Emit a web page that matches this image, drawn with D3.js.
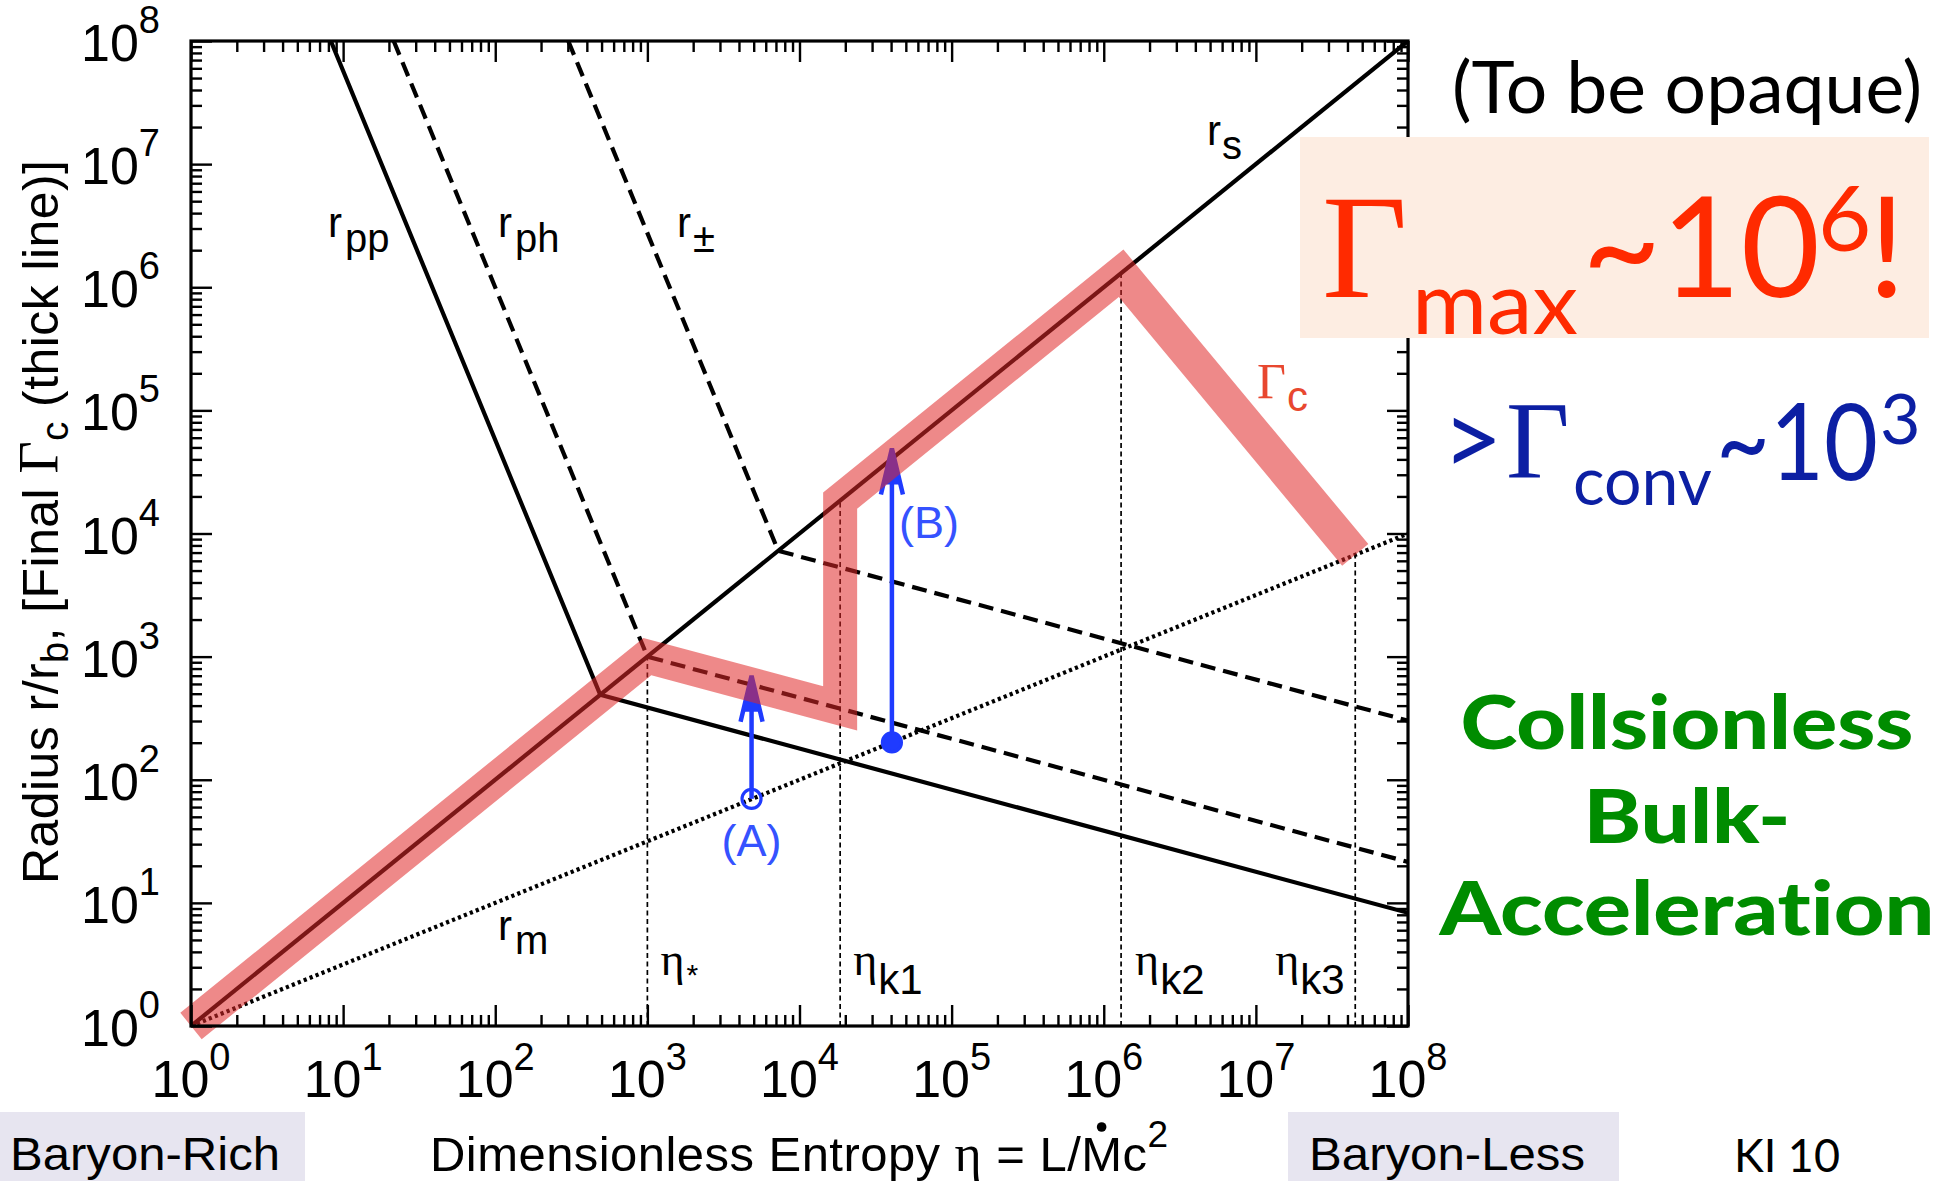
<!DOCTYPE html>
<html>
<head>
<meta charset="utf-8">
<script src="https://cdn.jsdelivr.net/npm/d3@7"></script>
<style>
  html, body { margin: 0; padding: 0; background: #fff; }
  svg { display: block; }
  text { font-variant-ligatures: none; }
</style>
</head>
<body>
<svg id="chart" width="1955" height="1181"></svg>
<script>
// ---- data -------------------------------------------------------------
// decade exponents shared by both logarithmic axes (tick labels 10^0 ... 10^8)
const decades = [0, 1, 2, 3, 4, 5, 6, 7, 8];

// characteristic radii r/r_b against dimensionless entropy eta, as [eta, r] vertices
const rSat       = [[1, 1], [1e8, 1e8]];                      // r_s  (saturation)
const rPairPhoto = [[8.3, 1e8], [490, 490], [1e8, 8.3]];      // r_pp
const rPhoto     = [[21.5, 1e8], [1000, 1000], [1e8, 21.5]];  // r_ph
const rPair      = [[302, 1e8], [7244, 7244], [1e8, 302]];    // r_±
const rMag       = [[1, 1], [1e8, 1e4]];                      // r_m

// final Lorentz factor Gamma_c (thick band)
const gammaC = [[1, 1], [1000, 1000], [18500, 380], [18500, 18500], [1.3e6, 1.3e6], [4.5e7, 6700]];

// critical entropies and the height each guide line reaches
const etaNames = ["*", "k1", "k2", "k3"];
const etaCrit  = [1000, 18500, 1.3e6, 4.5e7];
const etaTop   = [1000, 18500, 1.3e6, 6700];

// two acceleration examples: start on r_m, arrow up to the final value
const arrowNames = ["(A)", "(B)"];
const arrowEta   = [4840, 40500];
const arrowFrom  = [70, 201];
const arrowTo    = [700, 49000];

// ---- setup ------------------------------------------------------------
const SANS  = "'Liberation Sans', Arial, Helvetica, sans-serif";
const SERIF = "'Liberation Serif', 'Times New Roman', serif";
const SLIDE = "Lato, 'Open Sans', sans-serif";

const X0 = 191, X1 = 1408, Y0 = 41, Y1 = 1026;
const x = d3.scaleLog().domain([1, 1e8]).range([X0, X1]);
const y = d3.scaleLog().domain([1, 1e8]).range([Y1, Y0]);
const line = d3.line().x(d => x(d[0])).y(d => y(d[1]));

const svg = d3.select("#chart");
svg.append("rect").attr("width", 1955).attr("height", 1181).attr("fill", "#fff");

svg.append("defs").append("clipPath").attr("id", "plotClip")
  .append("rect").attr("x", X0).attr("y", Y0).attr("width", X1 - X0).attr("height", Y1 - Y0);

// ---- vertical guide lines at the critical entropies ---------------------
const guides = svg.append("g").attr("stroke", "#000").attr("stroke-width", 1.7)
  .attr("stroke-dasharray", "5,3.5");
etaCrit.forEach((e, i) => {
  guides.append("line")
    .attr("x1", x(e)).attr("x2", x(e))
    .attr("y1", y(1)).attr("y2", y(etaTop[i]));
});

// ---- radii curves --------------------------------------------------------
const curves = svg.append("g").attr("clip-path", "url(#plotClip)")
  .attr("fill", "none").attr("stroke", "#000").attr("stroke-width", 4.2);
[[rSat, null], [rPairPhoto, null], [rPhoto, "15,8"], [rPair, "15,8"], [rMag, "3.2,3.2"]]
  .forEach(([d, dash]) => {
    curves.append("path").datum(d).attr("d", line)
      .attr("stroke-dasharray", dash);
  });

// ---- acceleration arrows ---------------------------------------------------
const BLUE = "#1f3bff";
const arrows = svg.append("g");
arrowEta.forEach((e, i) => {
  const ax = x(e), yStart = y(arrowFrom[i]), yTip = y(arrowTo[i]);
  arrows.append("line")
    .attr("x1", ax).attr("x2", ax).attr("y1", yStart).attr("y2", yTip + 8)
    .attr("stroke", BLUE).attr("stroke-width", 4.5);
  arrows.append("path")
    .attr("d", `M${ax - 11},${yTip + 46} L${ax},${yTip} L${ax + 11},${yTip + 46}`)
    .attr("fill", "none").attr("stroke", BLUE).attr("stroke-width", 4.5);
  arrows.append("path")
    .attr("d", `M${ax},${yTip} L${ax - 8},${yTip + 36} L${ax + 8},${yTip + 36}Z`)
    .attr("fill", BLUE);
  arrows.append("circle")
    .attr("cx", ax).attr("cy", yStart).attr("r", 9.5)
    .attr("fill", i === 0 ? "none" : BLUE)
    .attr("stroke", BLUE).attr("stroke-width", 3.2);
});

// ---- Gamma_c band ------------------------------------------------------------
svg.append("path").datum(gammaC).attr("d", line)
  .attr("fill", "none").attr("stroke", "rgb(224,40,40)").attr("stroke-opacity", 0.55)
  .attr("stroke-width", 34).attr("stroke-linejoin", "miter").attr("stroke-linecap", "butt");

// ---- frame and axes ----------------------------------------------------------
const majors = decades.map(e => Math.pow(10, e));
const minors = [];
decades.slice(0, -1).forEach(e => { for (let m = 2; m <= 9; m++) minors.push(m * Math.pow(10, e)); });

const axisDefs = [
  [d3.axisBottom(x), `translate(0,${Y1})`],
  [d3.axisTop(x),    `translate(0,${Y0})`],
  [d3.axisLeft(y),   `translate(${X0},0)`],
  [d3.axisRight(y),  `translate(${X1},0)`]
];
axisDefs.forEach(([gen, tr]) => {
  [[majors, 21], [minors, 11]].forEach(([vals, len]) => {
    const g = svg.append("g").attr("transform", tr)
      .call(gen.tickValues(vals).tickSize(-len).tickFormat(""));
    g.select(".domain").remove();
    g.selectAll(".tick line").attr("stroke", "#000").attr("stroke-width", 2.4);
  });
});

svg.append("rect").attr("x", X0).attr("y", Y0).attr("width", X1 - X0).attr("height", Y1 - Y0)
  .attr("fill", "none").attr("stroke", "#000").attr("stroke-width", 3.2);

// tick labels 10^n
const tickLabels = svg.append("g").attr("font-family", SANS).attr("fill", "#000");
decades.forEach(e => {
  const v = Math.pow(10, e);
  const tb = tickLabels.append("text").attr("x", x(v)).attr("y", Y1 + 71)
    .attr("text-anchor", "middle").attr("font-size", 52).text("10");
  tb.append("tspan").attr("font-size", 38).attr("dy", -27).text(e);
  const tl = tickLabels.append("text").attr("x", X0 - 31).attr("y", y(v) + 20)
    .attr("text-anchor", "end").attr("font-size", 52).text("10");
  tl.append("tspan").attr("font-size", 38).attr("dy", -28).text(e);
});

// axis titles
const xt = svg.append("text").attr("x", 430).attr("y", 1171)
  .attr("font-family", SANS).attr("font-size", 49).attr("fill", "#000")
  .attr("textLength", 738).attr("lengthAdjust", "spacing");
xt.append("tspan").text("Dimensionless Entropy ");
xt.append("tspan").attr("font-family", SERIF).attr("font-size", 52).text("η");
xt.append("tspan").text(" = L/Mc");
xt.append("tspan").attr("font-size", 37).attr("dy", -24).text("2");
{
  const node = xt.node();
  const idx = node.textContent.indexOf("M");
  const a = node.getStartPositionOfChar(idx), b = node.getEndPositionOfChar(idx);
  svg.append("circle").attr("cx", (a.x + b.x) / 2).attr("cy", 1127).attr("r", 4.8).attr("fill", "#000");
}

const yt = svg.append("text").attr("transform", "translate(58,884) rotate(-90)")
  .attr("font-family", SANS).attr("font-size", 50).attr("fill", "#000")
  .attr("textLength", 724).attr("lengthAdjust", "spacing");
yt.append("tspan").text("Radius r/r");
yt.append("tspan").attr("font-size", 38).attr("dy", 10).text("b");
yt.append("tspan").attr("dy", -10).text(", [Final ");
yt.append("tspan").attr("font-family", SERIF).attr("font-size", 56).text("Γ");
yt.append("tspan").attr("font-size", 38).attr("dy", 10).text("c");
yt.append("tspan").attr("dy", -10).text(" (thick line)]");

// ---- curve labels ------------------------------------------------------------
function subLabel(px, py, main, sub, opts) {
  const o = Object.assign({ size: 42, subSize: 40, dx: 3, dy: 15, color: "#000", mainFont: SANS }, opts || {});
  const t = svg.append("text").attr("x", px).attr("y", py)
    .attr("font-family", SANS).attr("font-size", o.size).attr("fill", o.color);
  t.append("tspan").attr("font-family", o.mainFont).text(main);
  t.append("tspan").attr("font-size", o.subSize).attr("dx", o.dx).attr("dy", o.dy).text(sub);
  return t;
}
subLabel(328, 237, "r", "pp");
subLabel(498, 237, "r", "ph");
subLabel(677, 237, "r", "±", { dx: 2 });
subLabel(1207, 145, "r", "s", { dy: 14, dx: 1 });
subLabel(498, 940, "r", "m", { dy: 14 });
subLabel(1257, 398, "Γ", "c", { mainFont: SERIF, size: 50, subSize: 42, dy: 13, dx: 1, color: "#e8472f" });

// eta labels sit right of their guide line, except the last which sits left of it
const etaOffset = [13, 13, 14, -80];
etaNames.forEach((n, i) => {
  const px = x(etaCrit[i]) + etaOffset[i];
  if (n === "*") {
    subLabel(px, 975, "η", "*", { mainFont: SERIF, size: 46, subSize: 30, dx: 2, dy: 10 });
  } else {
    subLabel(px, 975, "η", n, { mainFont: SERIF, size: 46, subSize: 42, dx: 1, dy: 19 });
  }
});

// arrow labels
svg.append("text").attr("x", x(arrowEta[0])).attr("y", 856).attr("text-anchor", "middle")
  .attr("font-family", SANS).attr("font-size", 45).attr("fill", "#3552ff").text(arrowNames[0]);
svg.append("text").attr("x", 899).attr("y", 538)
  .attr("font-family", SANS).attr("font-size", 45).attr("fill", "#3552ff").text(arrowNames[1]);

// ---- slide annotations ---------------------------------------------------------
svg.append("text").attr("x", 1452).attr("y", 113).attr("font-family", SLIDE)
  .attr("font-size", 72).attr("fill", "#000").attr("textLength", 470)
  .attr("lengthAdjust", "spacingAndGlyphs").text("(To be opaque)");

svg.append("rect").attr("x", 1300).attr("y", 137).attr("width", 629).attr("height", 201)
  .attr("fill", "#fdede2");

const RED = "#ff2a00";
svg.append("text").attr("x", 1322).attr("y", 297).attr("font-family", SERIF)
  .attr("font-size", 148).attr("fill", RED).text("Γ");
svg.append("text").attr("x", 1412).attr("y", 334).attr("font-family", SLIDE)
  .attr("font-size", 88).attr("fill", RED).attr("textLength", 166)
  .attr("lengthAdjust", "spacingAndGlyphs").text("max");
svg.append("text").attr("x", 1582).attr("y", 297).attr("font-family", SLIDE)
  .attr("font-size", 140).attr("fill", RED).attr("textLength", 238)
  .attr("lengthAdjust", "spacingAndGlyphs").text("~10");
svg.append("text").attr("x", 1818).attr("y", 251).attr("font-family", SLIDE)
  .attr("font-size", 92).attr("fill", RED).text("6");
svg.append("text").attr("x", 1868).attr("y", 297).attr("font-family", SLIDE)
  .attr("font-size", 140).attr("fill", RED).text("!");

const NAVY = "#0c1fa3";
svg.append("text").attr("x", 1442).attr("y", 476).attr("font-family", SLIDE)
  .attr("font-size", 105).attr("fill", NAVY).text(">");
svg.append("text").attr("x", 1506).attr("y", 478).attr("font-family", SERIF)
  .attr("font-size", 110).attr("fill", NAVY).text("Γ");
svg.append("text").attr("x", 1573).attr("y", 505).attr("font-family", SLIDE)
  .attr("font-size", 68).attr("fill", NAVY).attr("textLength", 139)
  .attr("lengthAdjust", "spacingAndGlyphs").text("conv");
svg.append("text").attr("x", 1716).attr("y", 480).attr("font-family", SLIDE)
  .attr("font-size", 106).attr("fill", NAVY).attr("textLength", 162)
  .attr("lengthAdjust", "spacingAndGlyphs").text("~10");
svg.append("text").attr("x", 1880).attr("y", 444).attr("font-family", SLIDE)
  .attr("font-size", 70).attr("fill", NAVY).text("3");

const GREEN = "#008c00";
[["Collsionless", 749, 453], ["Bulk-", 843, 207], ["Acceleration", 935, 495]].forEach(([s, by, w]) => {
  svg.append("text").attr("x", 1687 - w / 2).attr("y", by).attr("font-family", SLIDE)
    .attr("font-weight", 900).attr("font-size", 75).attr("fill", GREEN)
    .attr("textLength", w).attr("lengthAdjust", "spacingAndGlyphs").text(s);
});

// footer boxes
svg.append("rect").attr("x", 0).attr("y", 1112).attr("width", 305).attr("height", 69).attr("fill", "#e7e5f0");
svg.append("rect").attr("x", 1288).attr("y", 1112).attr("width", 331).attr("height", 69).attr("fill", "#e7e5f0");
svg.append("text").attr("x", 10).attr("y", 1170).attr("font-family", SANS).attr("font-size", 46)
  .attr("fill", "#000").attr("textLength", 270).attr("lengthAdjust", "spacingAndGlyphs").text("Baryon-Rich");
svg.append("text").attr("x", 1309).attr("y", 1170).attr("font-family", SANS).attr("font-size", 46)
  .attr("fill", "#000").attr("textLength", 276).attr("lengthAdjust", "spacingAndGlyphs").text("Baryon-Less");
svg.append("text").attr("x", 1734).attr("y", 1172).attr("font-family", SLIDE).attr("font-size", 46)
  .attr("fill", "#000").attr("textLength", 106).attr("lengthAdjust", "spacingAndGlyphs").text("KI 10");
</script>
</body>
</html>
